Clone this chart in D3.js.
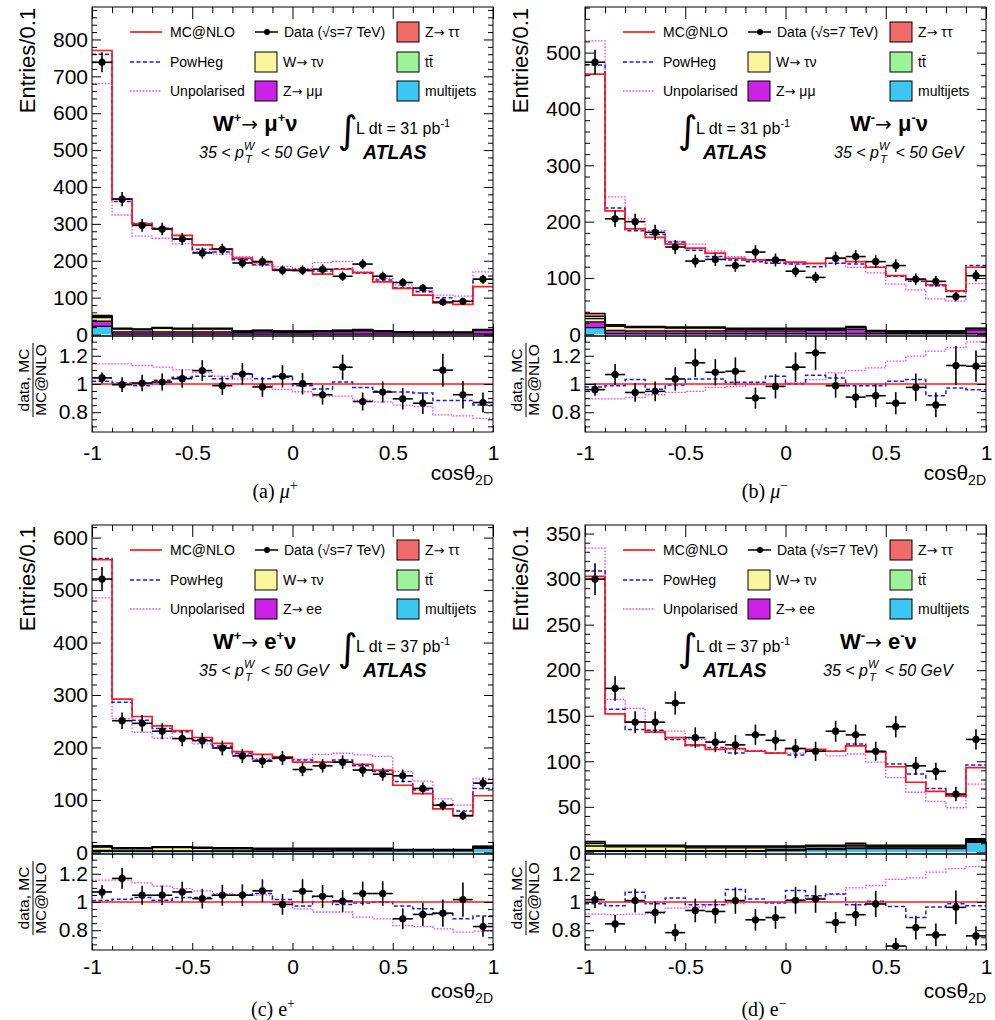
<!DOCTYPE html>
<html><head><meta charset="utf-8">
<script src="https://cdn.jsdelivr.net/npm/d3@7"></script>
<style>
body{margin:0;background:#fff}
svg{display:block}
</style>
</head><body>
<svg id="chart" width="995" height="1020" font-family="Liberation Sans, Arial, Helvetica, sans-serif"></svg>
<script>
// ---------------- categories / tick labels ----------------
const binLow  = [-1.0,-0.9,-0.8,-0.7,-0.6,-0.5,-0.4,-0.3,-0.2,-0.1,0.0,0.1,0.2,0.3,0.4,0.5,0.6,0.7,0.8,0.9];
const binHigh = [-0.9,-0.8,-0.7,-0.6,-0.5,-0.4,-0.3,-0.2,-0.1,0.0,0.1,0.2,0.3,0.4,0.5,0.6,0.7,0.8,0.9,1.0];
const xMajorTicks = [-1,-0.5,0,0.5,1];
const xTickLabels = ["-1","-0.5","0","0.5","1"];
const ratioMajorTicks = [0.8,1,1.2];
const ratioTickLabels = ["0.8","1","1.2"];

// ---------------- (a) mu+ ----------------
const a_data   = [738,367,296,286,259,221,231,194,198,174,174,177,158,191,158,141,126,88,90,150];
const a_mcnlo  = [770,368,300,287,269,243,232,207,195,175,173,164,177,168,143,125,107,86,82,130];
const a_powheg = [760,361,302,288,258,231,224,203,189,177,176,172,178,166,148,127,116,100,90,150];
const a_unpol  = [680,324,267,261,246,225,218,211,188,184,179,195,198,170,152,134,120,107,104,170];
const a_rData  = [1.043,0.995,1.007,1.014,1.038,1.095,0.988,1.071,0.979,1.055,1.002,0.924,1.119,0.876,0.943,0.895,0.864,1.098,0.924,0.869];
const a_rPowheg= [1.019,1.007,0.988,1.026,1.048,1.055,1.038,1.074,1.038,1.048,0.988,0.964,1.014,0.976,0.948,0.943,0.936,0.883,0.883,0.852];
const a_rUnpol = [1.143,1.143,1.131,1.119,1.100,1.081,1.055,1.036,0.993,0.962,0.945,0.914,0.914,0.886,0.874,0.850,0.840,0.781,0.774,0.757];
const a_bkgMultijet = [22,1,1,1,1,1,1,1,1,1,1,1,1,1,1,1,1,1,1,1];
const a_bkgZll      = [14,6,6,6,6,6,6,5,6,5,5,6,7,8,6,5,4,4,4,10];
const a_bkgWtau     = [10,8,6,10,8,8,8,2,3,2,2,2,2,3,2,1,1,1,1,2];
const a_bkgTtbar    = [3,1,1,1,1,1,1,1,1,1,1,0.5,1,1,0.5,0.5,0.3,0.3,0.3,0.5];
const a_bkgZtt      = [3,1,1,1,1,1,1,1,1,1,1,0.5,1,1,0.5,0.5,0.3,0.3,0.3,0.5];

// ---------------- (b) mu- ----------------
const b_data   = [483,205,200,181,155,130,133,122,146,132,112,101,135,138,129,122,98,94,67,104];
const b_mcnlo  = [462,219,187,172,160,153,144,135,132,131,128,126,135,129,119,104,97,88,77,119];
const b_powheg = [478,224,184,177,164,149,138,132,129,126,125,120,126,125,119,103,94,86,76,122];
const b_unpol  = [521,244,205,184,165,160,148,138,130,128,125,125,126,119,109,89,79,63,59,90];
const b_rData  = [0.960,1.067,0.940,0.948,1.036,1.150,1.083,1.090,0.900,0.983,1.119,1.221,0.988,0.907,0.917,0.864,0.976,0.852,1.131,1.126];
const b_rPowheg= [0.979,0.988,1.031,0.962,0.993,1.036,1.036,1.012,1.012,1.055,1.000,1.062,1.043,0.988,0.988,1.019,1.031,0.917,0.971,0.960];
const b_rUnpol = [0.895,0.895,0.905,0.924,0.940,0.948,0.976,0.983,0.995,0.995,1.007,1.031,1.079,1.095,1.114,1.162,1.198,1.233,1.257,1.298];
const b_bkgMultijet = [12,1,1,1,1,1,1,1,1,1,1,1,1,1,1,1,1,1,1,1];
const b_bkgZll      = [10,6,5,5,5,5,5,5,5,5,5,6,6,8,4,3,3,3,3,7];
const b_bkgWtau     = [6,7,6,6,5,5,5,3,3,3,3,2,2,3,1,1,1,1,1,2];
const b_bkgTtbar    = [4,1,1,1,1,1,1,1,1,1,1,1,1,1,0.5,0.5,0.5,0.5,0.5,0.5];
const b_bkgZtt      = [5,2,1,1,1,1,1,1,1,1,1,1,1,1,0.5,0.5,0.5,0.5,0.5,0.5];

// ---------------- (c) e+ ----------------
const c_data   = [521,251,246,231,217,213,199,184,174,180,158,165,172,157,149,146,122,90,70,132];
const c_mcnlo  = [558,292,259,241,232,219,208,192,187,182,172,172,172,168,157,128,112,83,70,108];
const c_powheg = [560,286,252,236,230,215,203,189,176,179,176,172,176,165,154,135,119,91,79,122];
const c_unpol  = [485,255,229,218,232,207,199,187,179,182,178,187,189,186,183,154,136,102,90,140];
const c_rData  = [1.071,1.167,1.048,1.048,1.071,1.024,1.048,1.048,1.079,0.983,1.076,1.040,1.007,1.060,1.060,0.881,0.912,0.921,1.017,0.826];
const c_rPowheg= [1.010,1.019,1.031,1.012,1.031,1.031,1.048,1.048,1.060,1.017,0.971,1.040,0.983,0.993,1.000,0.971,0.952,0.917,0.881,0.900];
const c_rUnpol = [1.155,1.155,1.136,1.112,1.095,1.079,1.060,1.052,1.048,1.000,0.952,0.929,0.929,0.893,0.881,0.833,0.826,0.810,0.786,0.793];
const c_bkgMultijet = [2,2,2,2,2,2,2,2,2,2,2,2,3,3,3,3,3,3,3,8];
const c_bkgZll      = [2,1,1,1,1,1,1,1,1,1,1,1,1,1,1,1,1,1,1,1];
const c_bkgWtau     = [6,4,4,6,6,5,4,4,3,3,3,3,2,2,2,1,1,1,1,2];
const c_bkgTtbar    = [1,1,1,1,1,1,1,1,1,1,1,1,1,1,1,0.5,0.5,0.5,0.5,0.5];
const c_bkgZtt      = [2,1,1,1,1,1,1,1,1,1,1,1,1,1,1,0.5,0.5,0.5,0.5,0.5];

// ---------------- (d) e- ----------------
const d_data   = [300,180,143,143,164,126,121,118,129,123,114,111,133,129,111,138,95,89,64,124];
const d_mcnlo  = [303,152,143,132,126,118,113,114,111,109,114,113,111,117,110,94,77,67,62,93];
const d_powheg = [309,157,135,134,124,117,115,109,111,109,107,112,111,119,110,97,86,70,62,96];
const d_unpol  = [334,168,158,134,133,124,122,113,112,109,109,112,106,108,99,82,66,56,49,75];
const d_rData  = [1.017,0.845,1.010,0.926,0.783,0.940,0.933,1.010,0.874,0.890,1.012,1.021,0.855,0.910,0.986,0.688,0.819,0.767,0.962,0.760];
const d_rPowheg= [0.988,0.974,1.069,0.988,1.029,0.980,0.981,1.088,1.021,0.993,1.081,1.045,1.057,0.981,1.005,0.969,0.890,0.964,0.988,0.974];
const d_rUnpol = [0.914,0.910,0.914,0.921,0.957,0.964,0.981,0.988,0.998,0.998,1.017,1.029,1.052,1.100,1.117,1.160,1.171,1.212,1.236,1.250];
const d_bkgMultijet = [1,1,1,1,1,1,1,1,1,2,2,3,3,4,4,4,4,4,4,11];
const d_bkgZll      = [1,1,1,1,1,1,1,1,1,1,1,1,1,1,1,1,1,1,1,1];
const d_bkgWtau     = [5,4,4,4,4,3,3,3,3,2,2,2,2,2,1,1,1,1,1,1];
const d_bkgTtbar    = [3,1,1,1,1,1,1,1,1,1,1,1,1,1,1,1,1,1,1,1];
const d_bkgZtt      = [2,1,1,1,1,1,1,1,1,1,1,1,1,2,1,1,1,1,1,1];

// ---------------- styles ----------------
const colMCNLO = "#ff1a1a", colPowheg = "#1a1aee", colUnpol = "#ee40ee";
const bkgKeys = ["multijets","zll","wtau","ttbar","ztt"];
const bkgColors = {multijets:"#3cc6f2", zll:"#cc22e8", wtau:"#fbf59e", ttbar:"#9ef29a", ztt:"#f26b6b"};
const ARROW_FONT = "DejaVu Sans";

const panels = [
  {id:"a", x0:92, x1:493, top:7, mid:336, bot:432, yDom:[-4,888], yMajor:d3.range(0,801,100), yMinor:d3.range(0,881,20),
   data:a_data, mcnlo:a_mcnlo, powheg:a_powheg, unpol:a_unpol, rData:a_rData, rPowheg:a_rPowheg, rUnpol:a_rUnpol,
   bkg:{multijets:a_bkgMultijet, zll:a_bkgZll, wtau:a_bkgWtau, ttbar:a_bkgTtbar, ztt:a_bkgZtt},
   zll:["Z","\u2192"," \u03bc\u03bc"], sign:"+", lep:"\u03bc", lumi:"31", chan:{x:121}, pt:{x:107}, lumiX:253, captX:275, capt:["(a) ","\u03bc","+"], captItalic:true, tickPad:13},
  {id:"b", x0:585, x1:986, top:7, mid:336, bot:432, yDom:[-3,581], yMajor:d3.range(0,501,100), yMinor:d3.range(0,581,20),
   data:b_data, mcnlo:b_mcnlo, powheg:b_powheg, unpol:b_unpol, rData:b_rData, rPowheg:b_rPowheg, rUnpol:b_rUnpol,
   bkg:{multijets:b_bkgMultijet, zll:b_bkgZll, wtau:b_bkgWtau, ttbar:b_bkgTtbar, ztt:b_bkgZtt},
   zll:["Z","\u2192"," \u03bc\u03bc"], sign:"-", lep:"\u03bc", lumi:"31", chan:{x:265}, pt:{x:249}, lumiX:100, captX:765, capt:["(b) ","\u03bc","\u2212"], captItalic:true, tickPad:13},
  {id:"c", x0:92, x1:493, top:525, mid:854, bot:950, yDom:[-3,624], yMajor:d3.range(0,601,100), yMinor:d3.range(0,621,20),
   data:c_data, mcnlo:c_mcnlo, powheg:c_powheg, unpol:c_unpol, rData:c_rData, rPowheg:c_rPowheg, rUnpol:c_rUnpol,
   bkg:{multijets:c_bkgMultijet, zll:c_bkgZll, wtau:c_bkgWtau, ttbar:c_bkgTtbar, ztt:c_bkgZtt},
   zll:["Z","\u2192"," ee"], sign:"+", lep:"e", lumi:"37", chan:{x:121}, pt:{x:107}, lumiX:253, captX:273, capt:["(c) ","e","+"], captItalic:false, tickPad:9},
  {id:"d", x0:585, x1:986, top:525, mid:854, bot:950, yDom:[-1.8,359.4], yMajor:d3.range(0,351,50), yMinor:d3.range(0,351,10),
   data:d_data, mcnlo:d_mcnlo, powheg:d_powheg, unpol:d_unpol, rData:d_rData, rPowheg:d_rPowheg, rUnpol:d_rUnpol,
   bkg:{multijets:d_bkgMultijet, zll:d_bkgZll, wtau:d_bkgWtau, ttbar:d_bkgTtbar, ztt:d_bkgZtt},
   zll:["Z","\u2192"," ee"], sign:"-", lep:"e", lumi:"37", chan:{x:255}, pt:{x:238}, lumiX:100, captX:764, capt:["(d) ","e","\u2212"], captItalic:false, tickPad:9}
];

const svg = d3.select("#chart");
const FONT = "Liberation Sans, Arial, Helvetica, sans-serif";

function styleAxis(g, size){
  g.select(".domain").remove();
  g.attr("font-family", FONT).attr("font-size", size||21);
  g.selectAll("line").attr("stroke","#000").attr("stroke-width",1);
  g.selectAll("text").attr("fill","#000");
}

function drawPanel(p){
  const g = svg.append("g");
  const x = d3.scaleLinear().domain([-1,1]).range([p.x0,p.x1]);
  const y = d3.scaleLinear().domain(p.yDom).range([p.mid,p.top]);
  const yr = d3.scaleLinear().domain([0.66,1.34]).range([p.bot,p.mid]);
  const W = p.x1-p.x0;

  svg.append("clipPath").attr("id","clipM"+p.id).append("rect").attr("x",p.x0).attr("y",p.top).attr("width",W).attr("height",p.mid-p.top);
  svg.append("clipPath").attr("id","clipR"+p.id).append("rect").attr("x",p.x0).attr("y",p.mid).attr("width",W).attr("height",p.bot-p.mid);

  const gm = g.append("g").attr("clip-path",`url(#clipM${p.id})`);
  const gr = g.append("g").attr("clip-path",`url(#clipR${p.id})`);

  // stacked backgrounds
  const rows = binLow.map((b,i)=>{const o={x:b}; bkgKeys.forEach(k=>o[k]=p.bkg[k][i]); return o;});
  rows.push(Object.assign({}, rows[rows.length-1], {x:binHigh[binHigh.length-1]}));
  const stacked = d3.stack().keys(bkgKeys)(rows);
  const area = d3.area().x(d=>x(d.data.x)).y0(d=>y(d[0])).y1(d=>y(d[1])).curve(d3.curveStepAfter);
  gm.selectAll("path.bkg").data(stacked).join("path").attr("class","bkg")
    .attr("d",area).attr("fill",d=>bkgColors[d.key]).attr("stroke","none");
  const topLine = d3.line().x(d=>x(d.data.x)).y(d=>y(d[1])).curve(d3.curveStepAfter);
  gm.selectAll("path.bkgl").data(stacked).join("path").attr("class","bkgl")
    .attr("d",topLine).attr("fill","none").attr("stroke","#000").attr("stroke-width",1.3);

  // step histograms
  const stepPts = vals => binLow.map((b,i)=>[b,vals[i]]).concat([[binHigh[binHigh.length-1], vals[vals.length-1]]]);
  const line = sc => d3.line().x(d=>x(d[0])).y(d=>sc(d[1])).curve(d3.curveStepAfter);
  gm.append("path").attr("d",line(y)(stepPts(p.unpol))).attr("fill","none").attr("stroke",colUnpol).attr("stroke-width",1.3).attr("stroke-dasharray","1.6,1.6");
  gm.append("path").attr("d",line(y)(stepPts(p.powheg))).attr("fill","none").attr("stroke",colPowheg).attr("stroke-width",1.5).attr("stroke-dasharray","4,2.5");
  gm.append("path").attr("d",line(y)(stepPts(p.mcnlo))).attr("fill","none").attr("stroke",colMCNLO).attr("stroke-width",1.7);

  // data points (main)
  const pts = p.data.map((v,i)=>({lo:binLow[i],hi:binHigh[i],c:(binLow[i]+binHigh[i])/2,v:v,e:Math.sqrt(v)}));
  const dg = gm.append("g");
  dg.selectAll("line.h").data(pts).join("line").attr("x1",d=>x(d.lo)).attr("x2",d=>x(d.hi)).attr("y1",d=>y(d.v)).attr("y2",d=>y(d.v)).attr("stroke","#000").attr("stroke-width",1.6);
  dg.selectAll("line.v").data(pts).join("line").attr("x1",d=>x(d.c)).attr("x2",d=>x(d.c)).attr("y1",d=>y(d.v-d.e)).attr("y2",d=>y(d.v+d.e)).attr("stroke","#000").attr("stroke-width",1.6);
  dg.selectAll("circle").data(pts).join("circle").attr("cx",d=>x(d.c)).attr("cy",d=>y(d.v)).attr("r",3.6).attr("fill","#000");

  // ratio panel
  gr.append("path").attr("d",line(yr)(stepPts(p.rUnpol))).attr("fill","none").attr("stroke",colUnpol).attr("stroke-width",1.3).attr("stroke-dasharray","1.6,1.6");
  gr.append("path").attr("d",line(yr)(stepPts(p.rPowheg))).attr("fill","none").attr("stroke",colPowheg).attr("stroke-width",1.5).attr("stroke-dasharray","4,2.5");
  gr.append("line").attr("x1",x(-1)).attr("x2",x(1)).attr("y1",yr(1)).attr("y2",yr(1)).attr("stroke",colMCNLO).attr("stroke-width",1.7);
  const rpts = p.rData.map((r,i)=>({lo:binLow[i],hi:binHigh[i],c:(binLow[i]+binHigh[i])/2,v:r,e:r/Math.sqrt(p.data[i])}));
  const rg = gr.append("g");
  rg.selectAll("line.h").data(rpts).join("line").attr("x1",d=>x(d.lo)).attr("x2",d=>x(d.hi)).attr("y1",d=>yr(d.v)).attr("y2",d=>yr(d.v)).attr("stroke","#000").attr("stroke-width",1.6);
  rg.selectAll("line.v").data(rpts).join("line").attr("x1",d=>x(d.c)).attr("x2",d=>x(d.c)).attr("y1",d=>yr(d.v-d.e)).attr("y2",d=>yr(d.v+d.e)).attr("stroke","#000").attr("stroke-width",1.6);
  rg.selectAll("circle").data(rpts).join("circle").attr("cx",d=>x(d.c)).attr("cy",d=>yr(d.v)).attr("r",3.6).attr("fill","#000");

  // frames
  g.append("rect").attr("x",p.x0).attr("y",p.top).attr("width",W).attr("height",p.mid-p.top).attr("fill","none").attr("stroke","#000").attr("stroke-width",1);
  g.append("rect").attr("x",p.x0).attr("y",p.mid).attr("width",W).attr("height",p.bot-p.mid).attr("fill","none").attr("stroke","#000").attr("stroke-width",1);

  // axes - main y
  const yMinor = p.yMinor.filter(v=>!p.yMajor.includes(v));
  styleAxis(g.append("g").attr("transform",`translate(${p.x0},0)`).call(d3.axisLeft(y).tickValues(p.yMajor).tickSize(-9).tickSizeOuter(0).tickPadding(4).tickFormat(d3.format("d"))));
  styleAxis(g.append("g").attr("transform",`translate(${p.x0},0)`).call(d3.axisLeft(y).tickValues(yMinor).tickSize(-5).tickSizeOuter(0).tickFormat("")));
  styleAxis(g.append("g").attr("transform",`translate(${p.x1},0)`).call(d3.axisRight(y).tickValues(p.yMajor).tickSize(-9).tickSizeOuter(0).tickFormat("")));
  styleAxis(g.append("g").attr("transform",`translate(${p.x1},0)`).call(d3.axisRight(y).tickValues(yMinor).tickSize(-5).tickSizeOuter(0).tickFormat("")));
  // ratio y
  const rMinor = d3.range(0.70,1.34,0.05).map(v=>+v.toFixed(2)).filter(v=>!ratioMajorTicks.some(m=>Math.abs(m-v)<1e-6));
  styleAxis(g.append("g").attr("transform",`translate(${p.x0},0)`).call(d3.axisLeft(yr).tickValues(ratioMajorTicks).tickSize(-9).tickSizeOuter(0).tickPadding(4).tickFormat((d,i)=>ratioTickLabels[i])));
  styleAxis(g.append("g").attr("transform",`translate(${p.x0},0)`).call(d3.axisLeft(yr).tickValues(rMinor).tickSize(-5).tickSizeOuter(0).tickFormat("")));
  styleAxis(g.append("g").attr("transform",`translate(${p.x1},0)`).call(d3.axisRight(yr).tickValues(ratioMajorTicks).tickSize(-9).tickSizeOuter(0).tickFormat("")));
  styleAxis(g.append("g").attr("transform",`translate(${p.x1},0)`).call(d3.axisRight(yr).tickValues(rMinor).tickSize(-5).tickSizeOuter(0).tickFormat("")));
  // x ticks
  const xMinor = binLow.concat([1]).filter(v=>!xMajorTicks.some(m=>Math.abs(m-v)<1e-6));
  [[p.top,"top",12,6],[p.mid,"bottom",12,6],[p.mid,"top",7,4]].forEach(([yy,side,big,small])=>{
    const ax = side==="top"?d3.axisTop:d3.axisBottom;
    styleAxis(g.append("g").attr("transform",`translate(0,${yy})`).call(ax(x).tickValues(xMajorTicks).tickSize(-big).tickSizeOuter(0).tickFormat("")));
    styleAxis(g.append("g").attr("transform",`translate(0,${yy})`).call(ax(x).tickValues(xMinor).tickSize(-small).tickSizeOuter(0).tickFormat("")));
  });
  styleAxis(g.append("g").attr("transform",`translate(0,${p.bot})`).call(d3.axisBottom(x).tickValues(xMajorTicks).tickSize(-7).tickSizeOuter(0).tickPadding(p.tickPad).tickFormat((d,i)=>xTickLabels[i])));
  styleAxis(g.append("g").attr("transform",`translate(0,${p.bot})`).call(d3.axisBottom(x).tickValues(xMinor).tickSize(-4).tickSizeOuter(0).tickFormat("")));

  // x title
  const xt = g.append("text").attr("x",p.x1).attr("y",p.bot+48).attr("text-anchor","end").attr("font-size",21);
  xt.append("tspan").text("cos\u03b8");
  xt.append("tspan").attr("font-size",14).attr("dy",5).text("2D");

  // y title main
  g.append("text").attr("transform",`translate(${p.x0-57},${p.top+1}) rotate(-90)`).attr("text-anchor","end").attr("font-size",22).text("Entries/0.1");
  // ratio y title
  const rt = g.append("g").attr("transform",`translate(${p.x0-59},${p.mid+44}) rotate(-90)`);
  rt.append("text").attr("x",0).attr("y",-4).attr("text-anchor","middle").attr("font-size",15.5).text("data, MC");
  rt.append("line").attr("x1",-37).attr("x2",37).attr("y1",0).attr("y2",0).attr("stroke","#000").attr("stroke-width",1);
  rt.append("text").attr("x",0).attr("y",13).attr("text-anchor","middle").attr("font-size",15.5).text("MC@NLO");

  // legend
  const L = p.x0, T = p.top;
  const rowsY = [25,55,84];
  const lg = g.append("g").attr("font-size",14);
  const addText = (tx,ty,parts)=>{
    const t = lg.append("text").attr("x",tx).attr("y",ty+5);
    (Array.isArray(parts)?parts:[parts]).forEach(s=>{
      const ts = t.append("tspan").text(s);
      if(s==="\u2192") ts.attr("font-family",ARROW_FONT).attr("font-size",13);
    });
  };
  [[colMCNLO,null,1.7,"MC@NLO"],[colPowheg,"4,2.5",1.5,"PowHeg"],[colUnpol,"1.6,1.6",1.3,"Unpolarised"]].forEach((s,i)=>{
    lg.append("line").attr("x1",L+38).attr("x2",L+70).attr("y1",T+rowsY[i]).attr("y2",T+rowsY[i]).attr("stroke",s[0]).attr("stroke-width",s[2]).attr("stroke-dasharray",s[1]);
    addText(L+78,T+rowsY[i],s[3]);
  });
  lg.append("line").attr("x1",L+163).attr("x2",L+186).attr("y1",T+rowsY[0]).attr("y2",T+rowsY[0]).attr("stroke","#000").attr("stroke-width",1.5);
  lg.append("circle").attr("cx",L+175).attr("cy",T+rowsY[0]).attr("r",3).attr("fill","#000");
  addText(L+192,T+rowsY[0],"Data (\u221as=7 TeV)");
  const box = (bx,row,key,label)=>{
    lg.append("rect").attr("x",bx).attr("y",T+rowsY[row]-10).attr("width",22).attr("height",20).attr("fill",bkgColors[key]).attr("stroke","#000").attr("stroke-width",1);
    addText(bx+28,T+rowsY[row],label);
  };
  box(L+163,1,"wtau",["W","\u2192"," \u03c4\u03bd"]);
  box(L+163,2,"zll",p.zll);
  box(L+305,0,"ztt",["Z","\u2192"," \u03c4\u03c4"]);
  box(L+305,1,"ttbar","tt\u0304");
  box(L+305,2,"multijets","multijets");

  // channel label
  const ch = g.append("text").attr("x",L+p.chan.x).attr("y",T+124).attr("font-size",22).attr("font-weight","bold");
  ch.append("tspan").text("W");
  ch.append("tspan").attr("font-size",13).attr("dy",-9).text(p.sign==="+"?"+":"-");
  ch.append("tspan").attr("dy",9).attr("font-family",ARROW_FONT).attr("font-weight","normal").attr("font-size",20).text("\u2192");
  ch.append("tspan").text(" "+p.lep);
  ch.append("tspan").attr("font-size",13).attr("dy",-9).text(p.sign==="+"?"+":"-");
  ch.append("tspan").attr("dy",9).text("\u03bd");
  // pT range
  const pt = g.append("text").attr("x",L+p.pt.x).attr("y",T+151).attr("font-size",16).attr("font-style","italic");
  pt.append("tspan").text("35 < p");
  pt.append("tspan").attr("font-size",11).attr("dy",-8).text("W");
  pt.append("tspan").attr("font-size",11).attr("dx",-9).attr("dy",13).text("T");
  pt.append("tspan").attr("dx",4).attr("dy",-5).text(" < 50 GeV");
  // lumi
  g.append("text").attr("x",L+p.lumiX-7).attr("y",T+136).attr("font-size",38).attr("font-family","DejaVu Sans").attr("font-weight","normal").text("\u222b");
  const lu = g.append("text").attr("x",L+p.lumiX+11).attr("y",T+127).attr("font-size",16);
  lu.append("tspan").text("L dt = "+p.lumi+" pb");
  lu.append("tspan").attr("font-size",11).attr("dy",-7).text("-1");
  g.append("text").attr("x",L+p.lumiX+18).attr("y",T+152).attr("font-size",19.5).attr("font-weight","bold").attr("font-style","italic").text("ATLAS");

  // caption
  const cp = g.append("text").attr("x",p.captX).attr("y",p.bot+66).attr("text-anchor","middle").attr("font-size",20).attr("font-family","Liberation Serif, DejaVu Serif, serif");
  cp.append("tspan").text(p.capt[0]);
  cp.append("tspan").attr("font-style",p.captItalic?"italic":"normal").text(p.capt[1]);
  cp.append("tspan").attr("font-size",14).attr("dy",-8).text(p.capt[2]);
}

panels.forEach(drawPanel);
</script>
</body></html>
